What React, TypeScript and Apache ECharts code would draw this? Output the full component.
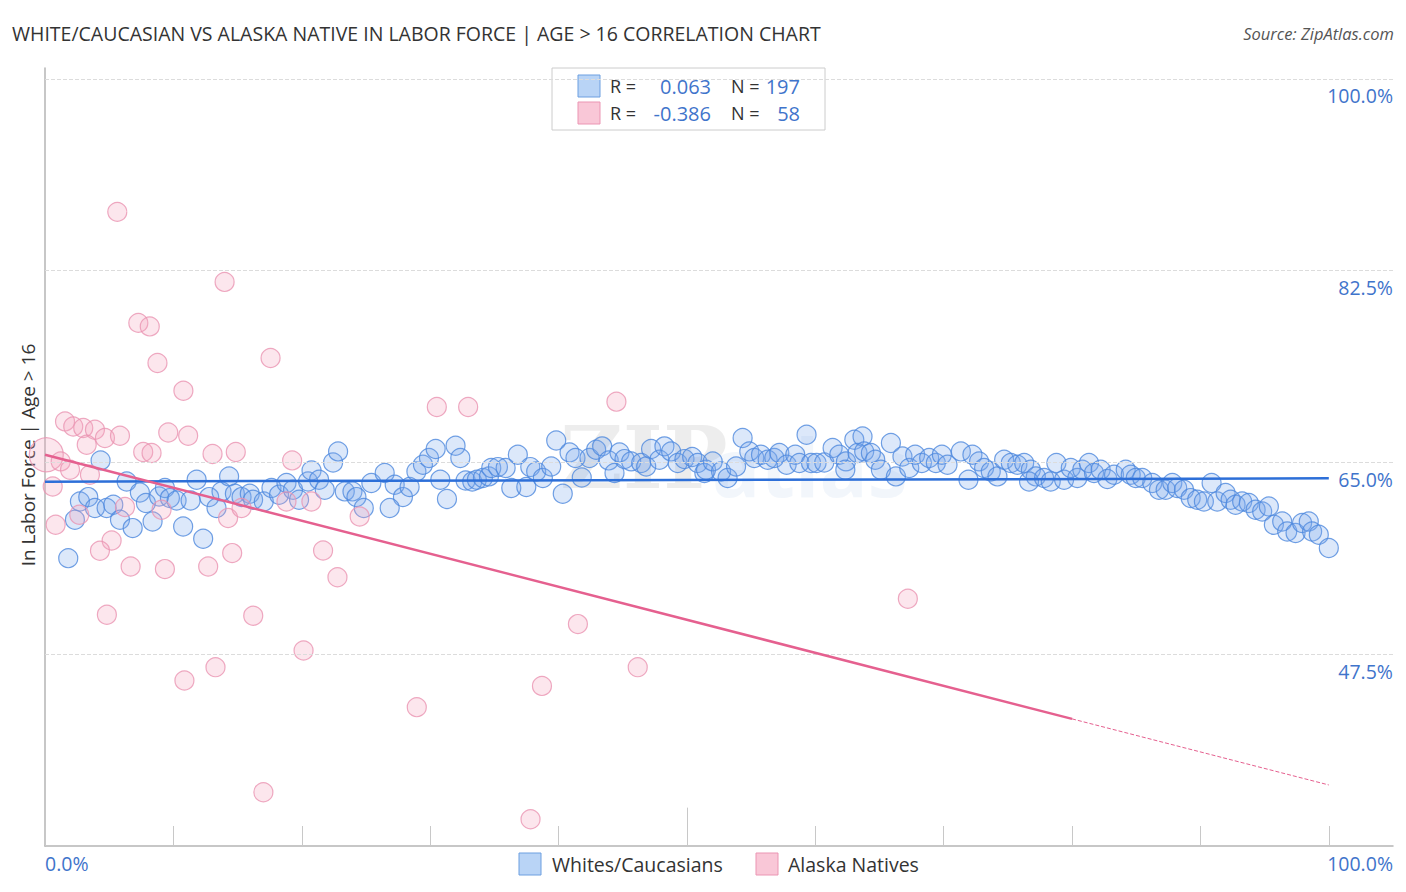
import React, { useEffect, useRef } from 'react';
import * as echarts from 'echarts';

const TITLE = 'WHITE/CAUCASIAN VS ALASKA NATIVE IN LABOR FORCE | AGE > 16 CORRELATION CHART';
const SOURCE = 'Source: ZipAtlas.com';
const Y_TITLE = 'In Labor Force | Age > 16';
const SERIES_NAMES = ['Whites/Caucasians', 'Alaska Natives'];
const R_VALUES = ['0.063', '-0.386'];
const N_VALUES = ['197', '58'];
const Y_TICKS = [47.5, 65, 82.5, 100];
const Y_TICK_LABELS = ['47.5%', '65.0%', '82.5%', '100.0%'];
const X_TICKS = [0, 10, 20, 30, 40, 50, 60, 70, 80, 90, 100];
const X_END_LABELS = ['0.0%', '100.0%'];

const whites: number[][] = [
  [4.33, 65.19], [2.72, 61.44], [3.37, 61.84], [3.89, 60.84], [4.8, 60.84], [5.32, 61.14], [2.33, 59.77], [5.84, 59.77],
  [6.83, 59.01], [1.81, 56.27], [6.36, 63.27], [7.39, 62.26], [7.86, 61.3], [8.38, 59.62], [8.89, 61.9], [9.34, 62.67],
  [9.73, 61.75], [10.25, 61.53], [11.34, 61.53], [10.76, 59.16], [12.32, 58.04], [11.81, 63.42], [12.79, 61.84], [13.36, 60.84],
  [13.75, 62.36], [14.34, 63.73], [14.79, 62.15], [15.31, 61.84], [15.95, 62.15], [16.21, 61.6], [17.04, 61.44], [17.64, 62.67],
  [18.23, 62.05], [18.81, 63.12], [19.32, 62.51], [19.79, 61.6], [20.49, 63.27], [20.76, 64.27], [21.35, 63.42], [21.79, 62.51],
  [22.44, 65.0], [22.83, 66.01], [23.35, 62.36], [23.95, 62.36], [24.26, 61.84], [24.83, 60.84], [25.42, 63.12],
  [26.46, 64.04], [27.24, 62.97], [27.88, 61.84], [26.85, 60.84], [28.4, 62.76], [28.93, 64.18], [29.44, 64.79], [29.91, 65.41],
  [30.43, 66.23], [30.79, 63.42], [31.31, 61.66], [31.98, 66.53], [32.35, 65.41], [32.76, 63.36], [33.28, 63.27], [33.64, 63.42],
  [34.11, 63.58], [34.58, 63.73], [34.76, 64.49], [35.28, 64.58], [35.88, 64.49], [36.32, 62.67], [36.83, 65.71], [37.49, 62.76],
  [37.8, 64.58], [38.26, 64.18], [38.78, 63.58], [39.43, 64.64], [40.33, 62.15], [39.82, 67.01], [40.86, 65.92], [41.32, 65.41],
  [41.81, 63.63], [42.41, 65.41], [42.93, 66.16], [43.4, 66.47], [43.91, 65.19], [44.36, 64.04], [44.75, 65.92], [45.14, 65.31],
  [45.66, 65.1], [46.44, 64.95], [46.83, 64.64], [47.21, 66.23], [47.86, 65.25], [48.25, 66.47], [48.77, 66.01], [49.28, 64.95],
  [49.81, 65.31], [50.41, 65.5], [50.84, 64.95], [51.36, 64.04],
  [51.49, 64.34], [52.01, 65.1], [52.66, 64.18], [53.17, 63.58], [53.83, 64.64], [54.34, 67.23], [54.86, 66.01], [55.25, 65.41],
  [55.77, 65.71], [56.29, 65.25], [56.81, 65.41], [57.2, 65.86], [57.77, 64.79], [58.44, 65.71], [58.76, 64.95], [59.32, 67.53],
  [59.67, 64.95], [60.1, 64.95], [60.7, 65.0], [61.35, 66.32], [61.87, 65.71], [62.39, 65.1], [62.34, 64.34], [63.04, 67.08],
  [63.68, 67.38], [63.29, 65.86], [63.81, 66.01], [64.33, 65.86], [64.67, 65.25], [65.11, 64.34], [65.89, 66.78], [66.28, 63.73],
  [66.79, 65.55], [67.32, 64.49], [67.78, 65.71], [68.3, 64.95], [68.87, 65.41], [69.39, 64.95], [69.86, 65.71], [70.3, 64.79],
  [71.34, 66.01], [71.93, 63.42], [72.24, 65.71], [72.76, 65.1], [73.15, 64.49], [73.67, 64.18], [74.19, 63.73], [74.71, 65.25],
  [75.23, 64.95], [75.74, 64.79], [76.27, 64.95], [76.79, 64.34], [77.18, 63.73], [76.65, 63.27],
  [77.82, 63.58], [78.34, 63.27], [78.78, 64.95], [79.38, 63.42], [79.9, 64.49], [80.41, 63.58], [80.8, 64.34], [81.32, 64.95],
  [81.71, 64.04], [82.23, 64.34], [82.75, 63.49], [83.27, 63.88], [84.18, 64.34], [84.57, 63.88], [84.96, 63.58], [85.47, 63.58],
  [86.25, 63.12], [86.77, 62.51], [87.29, 62.51], [87.81, 63.12], [88.19, 62.67], [88.72, 62.51], [89.24, 61.75], [89.75, 61.6],
  [90.27, 61.44], [90.87, 63.12], [91.31, 61.44], [91.96, 62.21], [92.35, 61.6], [92.74, 61.14], [93.25, 61.44], [93.77, 61.3],
  [94.3, 60.68], [94.81, 60.53], [95.33, 60.99], [95.72, 59.31], [96.37, 59.62], [96.76, 58.7], [97.41, 58.56], [97.92, 59.47],
  [98.44, 59.62], [98.7, 58.7], [99.22, 58.4], [100.0, 57.19],
];

const alaska: number[][] = [
  [5.63, 87.87], [13.99, 81.48], [7.27, 77.74], [8.16, 77.42], [8.76, 74.08], [17.57, 74.54], [10.78, 71.55], [30.52, 70.06],
  [32.96, 70.06], [44.51, 70.55], [1.56, 68.75], [2.2, 68.29], [2.98, 68.15], [3.89, 67.99], [4.67, 67.23], [5.84, 67.44],
  [3.25, 66.62], [9.6, 67.74], [11.15, 67.44], [0.1, 65.71], [1.22, 65.1], [1.95, 64.34], [3.5, 63.88], [7.65, 65.95],
  [8.3, 65.86], [13.05, 65.77], [14.86, 65.95], [19.25, 65.19], [0.6, 62.81], [2.67, 60.23], [6.23, 60.93], [9.08, 60.68],
  [14.26, 59.93], [15.31, 60.84], [18.81, 61.44], [20.75, 61.44], [24.51, 60.07], [0.83, 59.32], [5.19, 57.88], [4.28, 56.94],
  [6.67, 55.51], [9.34, 55.27], [12.71, 55.51], [14.58, 56.73], [21.66, 56.97], [22.78, 54.52], [4.82, 51.1], [16.22, 51.01],
  [67.21, 52.56], [41.51, 50.25], [20.14, 47.84], [13.28, 46.32], [10.86, 45.1], [46.17, 46.32], [38.71, 44.61], [28.96, 42.67],
  [17.01, 34.9], [37.82, 32.44],
];
const ALASKA_LARGE_INDEX = 19;

const whitesTrend: number[][] = [[0, 63.25], [100, 63.55]];
const alaskaTrendSolid: number[][] = [[0, 65.71], [80, 41.6]];
const alaskaTrendDashed: number[][] = [[80, 41.6], [100, 35.57]];

const X_MIN = 0;
const X_MAX = 105;
const Y_MIN = 30;
const Y_MAX = 101;

const BLUE_TEXT = '#3f74cb';
const DARK_TEXT = '#333333';
const FONT = '"Open Sans", Roboto, sans-serif';

export default function App() {
  const ref = useRef<HTMLDivElement>(null);
  useEffect(() => {
    document.body.style.margin = '0';
    if (!ref.current) return;
    const chart = echarts.init(ref.current, undefined, { renderer: 'svg' });

    const legendRow = (i: number, y: number, fill: string, stroke: string) => [
      { type: 'rect', shape: { x: 578, y: y - 11, width: 22, height: 22 }, style: { fill, stroke, lineWidth: 1 } },
      { type: 'text', x: 610, y, style: { text: 'R =', fill: DARK_TEXT, font: `18px ${FONT}`, verticalAlign: 'middle', align: 'left' } },
      { type: 'text', x: 711, y, style: { text: R_VALUES[i], fill: BLUE_TEXT, font: `20px ${FONT}`, verticalAlign: 'middle', align: 'right' } },
      { type: 'text', x: 731, y, style: { text: 'N =', fill: DARK_TEXT, font: `18px ${FONT}`, verticalAlign: 'middle', align: 'left' } },
      { type: 'text', x: 800, y, style: { text: N_VALUES[i], fill: BLUE_TEXT, font: `20px ${FONT}`, verticalAlign: 'middle', align: 'right' } },
    ];

    const option: any = {
      animation: false,
      grid: { left: 45, right: 13, top: 68, bottom: 46 },
      xAxis: {
        type: 'value',
        min: X_MIN,
        max: X_MAX,
        interval: 10,
        axisLine: { show: true, lineStyle: { color: '#b5b5b5', width: 1.5 } },
        axisTick: { show: true, inside: true, length: 20, customValues: X_TICKS, lineStyle: { color: '#c8c8c8' } },
        axisLabel: { show: false },
        splitLine: { show: false },
      },
      yAxis: [
        {
          type: 'value',
          min: Y_MIN,
          max: Y_MAX,
          interval: 17.5,
          position: 'left',
          axisLine: { show: true, lineStyle: { color: '#b5b5b5', width: 1.5 } },
          axisTick: { show: false },
          axisLabel: { show: false },
          splitLine: { show: false },
        },
        {
          type: 'value',
          min: Y_MIN,
          max: Y_MAX,
          interval: 17.5,
          position: 'right',
          axisLine: { show: false },
          axisTick: { show: false },
          splitLine: { show: false },
          axisLabel: {
            show: true,
            inside: true,
            margin: 0,
            customValues: Y_TICKS,
            verticalAlign: 'top',
            padding: [7, 0, 0, 0],
            color: BLUE_TEXT,
            fontSize: 19.5,
            fontFamily: FONT,
            formatter: (v: number) => {
              const i = Y_TICKS.indexOf(v);
              return i >= 0 ? Y_TICK_LABELS[i] : '';
            },
          },
        },
      ],
      series: [
        {
          name: SERIES_NAMES[0],
          type: 'scatter',
          data: whites,
          symbolSize: 19,
          itemStyle: { color: 'rgba(120,168,235,0.33)', borderColor: '#4d88dd', borderWidth: 1.2 },
          z: 3,
          markLine: {
            silent: true,
            symbol: 'none',
            label: { show: false },
            lineStyle: { color: '#dcdcdc', type: 'dashed', width: 1 },
            data: Y_TICKS.map((v) => ({ yAxis: v })),
          },
        },
        {
          name: SERIES_NAMES[1],
          type: 'scatter',
          data: alaska,
          symbolSize: (_v: any, p: any) => (p.dataIndex === ALASKA_LARGE_INDEX ? 34 : 19),
          itemStyle: { color: 'rgba(245,165,192,0.35)', borderColor: '#ea93b1', borderWidth: 1.2 },
          z: 3,
          markLine: {
            silent: true,
            symbol: 'none',
            label: { show: false },
            lineStyle: { color: '#c8c8c8', type: 'solid', width: 1 },
            data: [[{ coord: [50, Y_MIN] }, { coord: [50, Y_MIN + 3.5] }]],
          },
        },
        {
          type: 'line',
          data: whitesTrend,
          symbol: 'none',
          lineStyle: { color: '#2d6fd8', width: 2.5 },
          z: 5,
          silent: true,
        },
        {
          type: 'line',
          data: alaskaTrendSolid,
          symbol: 'none',
          lineStyle: { color: '#e5608f', width: 2.5 },
          z: 5,
          silent: true,
        },
        {
          type: 'line',
          data: alaskaTrendDashed,
          symbol: 'none',
          lineStyle: { color: '#e5608f', width: 1, type: 'dashed' },
          z: 5,
          silent: true,
        },
      ],
      graphic: [
        { type: 'text', x: 560, y: 457, z: 0, style: { text: 'ZIP', fill: 'rgba(0,0,0,0.07)', font: `bold 86px "DejaVu Serif", serif`, verticalAlign: 'middle', align: 'left' } },
        { type: 'text', x: 712, y: 465, z: 0, style: { text: 'atlas', fill: 'rgba(90,140,210,0.08)', font: `bold 80px ${FONT}`, verticalAlign: 'middle', align: 'left' } },
        { type: 'text', x: 12, y: 33, style: { text: TITLE, fill: DARK_TEXT, font: `19.5px ${FONT}`, verticalAlign: 'middle', align: 'left' } },
        { type: 'text', x: 1394, y: 33, style: { text: SOURCE, fill: '#555555', font: `italic 16.5px ${FONT}`, verticalAlign: 'middle', align: 'right' } },
        { type: 'text', x: 28, y: 455, rotation: Math.PI / 2, style: { text: Y_TITLE, fill: DARK_TEXT, font: `19px ${FONT}`, verticalAlign: 'middle', align: 'center' } },
        { type: 'text', x: 45, y: 863, style: { text: X_END_LABELS[0], fill: BLUE_TEXT, font: `19.5px ${FONT}`, verticalAlign: 'middle', align: 'left' } },
        { type: 'text', x: 1393, y: 863, style: { text: X_END_LABELS[1], fill: BLUE_TEXT, font: `19.5px ${FONT}`, verticalAlign: 'middle', align: 'right' } },
        { type: 'rect', shape: { x: 552, y: 68, width: 273, height: 62 }, style: { fill: '#ffffff', stroke: '#cccccc', lineWidth: 1 } },
        ...legendRow(0, 86, '#b9d4f6', '#6d9fe0'),
        ...legendRow(1, 113, '#f9c7d7', '#eb95b3'),
        { type: 'rect', shape: { x: 519, y: 853, width: 22, height: 22 }, style: { fill: '#b9d4f6', stroke: '#6d9fe0', lineWidth: 1 } },
        { type: 'text', x: 552, y: 864, style: { text: SERIES_NAMES[0], fill: DARK_TEXT, font: `19.5px ${FONT}`, verticalAlign: 'middle', align: 'left' } },
        { type: 'rect', shape: { x: 756, y: 853, width: 22, height: 22 }, style: { fill: '#f9c7d7', stroke: '#eb95b3', lineWidth: 1 } },
        { type: 'text', x: 788, y: 864, style: { text: SERIES_NAMES[1], fill: DARK_TEXT, font: `19.5px ${FONT}`, verticalAlign: 'middle', align: 'left' } },
      ],
    };
    chart.setOption(option);
    return () => chart.dispose();
  }, []);
  return <div ref={ref} style={{ width: 1406, height: 892 }} />;
}
